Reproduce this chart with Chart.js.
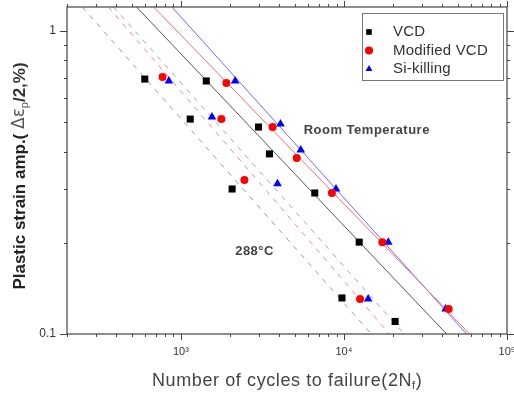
<!DOCTYPE html>
<html lang="en">
<head>
    <meta charset="UTF-8">
    <title>Plastic strain amplitude vs cycles to failure</title>
    <script src="https://cdn.jsdelivr.net/npm/chart.js"></script>
    <style>
        body { margin: 0; background: #fff; }
        canvas { display: block; }
    </style>
</head>
<body>
    <canvas id="chart" width="514" height="395"></canvas>
    <script>
        // data (2Nf, plastic strain amplitude %)
        const vcdRoomN = [1430, 2990, 3490, 6620, 12400];
        const vcdRoomAmp = [0.684, 0.482, 0.393, 0.292, 0.201];
        const vcd288N = [600, 1140, 2060, 9720, 20600];
        const vcd288Amp = [0.694, 0.512, 0.301, 0.1315, 0.110];

        const modRoomN = [1900, 3650, 5130, 8430, 17200, 43900];
        const modRoomAmp = [0.674, 0.482, 0.381, 0.292, 0.201, 0.121];
        const mod288N = [771, 1770, 2450, 12550];
        const mod288Amp = [0.705, 0.512, 0.322, 0.1305];

        const siRoomN = [2150, 4080, 5430, 8930, 18700, 42000];
        const siRoomAmp = [0.684, 0.493, 0.405, 0.301, 0.201, 0.121];
        const si288N = [843, 1550, 3910, 14070];
        const si288Amp = [0.684, 0.520, 0.313, 0.1305];

        // fitted lines, end points where they meet the frame
        const fitVcdRoomN = [534, 42600];
        const fitModRoomN = [681, 59100];
        const fitSiRoomN = [880, 56600];
        const fitVcd288N = [248, 14700];
        const fitMod288N = [359, 19000];
        const fitSi288N = [386, 23400];
        const fitAmp = [1.2, 0.1];

        const seriesNames = ['VCD', 'Modified VCD', 'Si-killing'];
        const xMajor = [1000, 10000, 100000];
        const xTickLabels = ['10³', '10⁴', '10⁵'];
        const yMajor = [0.1, 1];
        const yTickLabels = ['0.1', '1'];

        const pts = (xs, ys) => xs.map((v, i) => ({ x: v, y: ys[i] }));

        function pointSet(label, xs1, ys1, xs2, ys2, color, style, radius) {
            return {
                type: 'scatter', label: label,
                data: pts(xs1, ys1).concat(pts(xs2, ys2)),
                pointStyle: style, pointRadius: radius,
                backgroundColor: color, borderColor: color, borderWidth: 0
            };
        }

        function fitLine(xs, color, dash) {
            return {
                type: 'line', label: '',
                data: pts(xs, fitAmp),
                borderColor: color, borderWidth: 1, borderDash: dash,
                pointRadius: 0, fill: false
            };
        }

        // frame, ticks, tick labels, axis titles, legend and notes
        const decor = {
            id: 'decor',
            afterDraw(chart) {
                const ctx = chart.ctx;
                const a = chart.chartArea;
                const x = chart.scales.x, y = chart.scales.y;
                ctx.save();
                ctx.strokeStyle = '#444';
                ctx.lineWidth = 1.2;
                ctx.strokeRect(a.left, a.top, a.right - a.left, a.bottom - a.top);

                const tick = (px, len, horiz) => {
                    ctx.beginPath();
                    if (horiz) {
                        ctx.moveTo(px, a.bottom); ctx.lineTo(px, a.bottom + len);
                        ctx.moveTo(px, a.top); ctx.lineTo(px, a.top - len);
                    } else {
                        ctx.moveTo(a.left, px); ctx.lineTo(a.left - len, px);
                        ctx.moveTo(a.right, px); ctx.lineTo(a.right + len, px);
                    }
                    ctx.stroke();
                };
                ctx.lineWidth = 1;
                for (let d = 100; d <= 100000; d *= 10) {
                    for (let m = 1; m < 10; m++) {
                        const v = d * m;
                        if (v < x.min || v > x.max) continue;
                        tick(Math.round(x.getPixelForValue(v)) + 0.5, m === 1 ? 6 : 3, true);
                    }
                }
                for (let d = 0.1; d <= 1; d *= 10) {
                    for (let m = 1; m < 10; m++) {
                        const v = d * m;
                        if (v < y.min || v > y.max + 1e-9) continue;
                        tick(Math.round(y.getPixelForValue(v)) + 0.5, m === 1 ? 7 : 3, false);
                    }
                }

                // tick labels
                ctx.fillStyle = '#333';
                ctx.textBaseline = 'middle';
                ctx.font = '12px "Liberation Sans", Arial';
                ctx.textAlign = 'right';
                yMajor.forEach((v, i) => ctx.fillText(yTickLabels[i], 56, y.getPixelForValue(v)));
                ctx.font = '11px "Liberation Sans", Arial';
                ctx.textAlign = 'center';
                xMajor.forEach((v, i) => ctx.fillText(xTickLabels[i], x.getPixelForValue(v), 352));

                // x title with subscript f
                ctx.fillStyle = '#444';
                ctx.textAlign = 'left';
                ctx.letterSpacing = '0.6px';
                const xt = [
                    { t: 'Number of cycles to failure(2N', f: '18px "Liberation Sans", Arial', dy: 0 },
                    { t: 'f', f: '11px "Liberation Sans", Arial', dy: 5 },
                    { t: ')', f: '18px "Liberation Sans", Arial', dy: 0 }
                ];
                let cx = 152;
                xt.forEach(p => { ctx.font = p.f; ctx.fillText(p.t, cx, 381 + p.dy); cx += ctx.measureText(p.t).width; });
                ctx.letterSpacing = '0px';

                // y title, rotated
                const yt = [
                    { t: 'Plastic strain amp.( ', f: 'bold 17px "Liberation Sans", Arial', dy: 0, c: '#222' },
                    { t: 'Δε', f: '17px "DejaVu Sans", Arial', dy: 0, c: '#555' },
                    { t: 'p', f: '11px "Liberation Sans", Arial', dy: 5, c: '#555' },
                    { t: '/2,%)', f: 'bold 17px "Liberation Sans", Arial', dy: 0, c: '#333' }
                ];
                let total = 0;
                yt.forEach(p => { ctx.font = p.f; total += ctx.measureText(p.t).width; });
                ctx.save();
                ctx.translate(20, 176);
                ctx.rotate(-Math.PI / 2);
                let cy = -total / 2;
                yt.forEach(p => { ctx.font = p.f; ctx.fillStyle = p.c; ctx.fillText(p.t, cy, p.dy); cy += ctx.measureText(p.t).width; });
                ctx.restore();

                // notes
                ctx.fillStyle = '#444';
                ctx.font = 'bold 13px "Liberation Sans", Arial';
                ctx.letterSpacing = '0.5px';
                ctx.fillText('Room Temperature', x.getPixelForValue(5660), y.getPixelForValue(0.468));
                ctx.fillText('288°C', x.getPixelForValue(2150), y.getPixelForValue(0.188));

                // legend box
                ctx.fillStyle = '#fff';
                ctx.fillRect(362, 13, 141, 67);
                ctx.strokeStyle = '#777';
                ctx.strokeRect(362.5, 13.5, 141, 67);
                ctx.font = '15px "Liberation Sans", Arial';
                ctx.letterSpacing = '0.2px';
                chart.data.datasets.slice(0, 3).forEach((ds, i) => {
                    const ly = 32 + i * 18.5;
                    ctx.fillStyle = ds.backgroundColor;
                    Chart.helpers.drawPoint(ctx, { pointStyle: ds.pointStyle, radius: 4, borderWidth: 0 }, 369, ly);
                    ctx.fillStyle = '#333';
                    ctx.fillText(seriesNames[i], 393, ly);
                });
                ctx.restore();
            }
        };

        new Chart(document.getElementById('chart'), {
            type: 'scatter',
            data: {
                datasets: [
                    pointSet(seriesNames[0], vcdRoomN, vcdRoomAmp, vcd288N, vcd288Amp, '#000', 'rect', 5),
                    pointSet(seriesNames[1], modRoomN, modRoomAmp, mod288N, mod288Amp, '#ff0000', 'circle', 4),
                    pointSet(seriesNames[2], siRoomN, siRoomAmp, si288N, si288Amp, '#0000ff', 'triangle', 5),
                    fitLine(fitVcdRoomN, '#555', []),
                    fitLine(fitModRoomN, '#ff6a6a', []),
                    fitLine(fitSiRoomN, '#6a6aff', []),
                    fitLine(fitVcd288N, '#999', [5, 6]),
                    fitLine(fitMod288N, '#ff8080', [5, 6]),
                    fitLine(fitSi288N, '#9a9aff', [5, 6])
                ]
            },
            options: {
                responsive: false,
                animation: false,
                layout: { padding: { top: 7, right: 7, left: 0, bottom: 0 } },
                plugins: { legend: { display: false }, tooltip: { enabled: false } },
                scales: {
                    x: {
                        type: 'logarithmic', position: 'bottom', min: 200, max: 100000,
                        grid: { display: false, drawTicks: false }, border: { display: false },
                        ticks: { display: false },
                        afterFit: s => { s.height = 61; }
                    },
                    y: {
                        type: 'logarithmic', position: 'left', min: 0.1, max: 1.2,
                        grid: { display: false, drawTicks: false }, border: { display: false },
                        ticks: { display: false },
                        afterFit: s => { s.width = 67; }
                    }
                }
            },
            plugins: [decor]
        });
    </script>
</body>
</html>
